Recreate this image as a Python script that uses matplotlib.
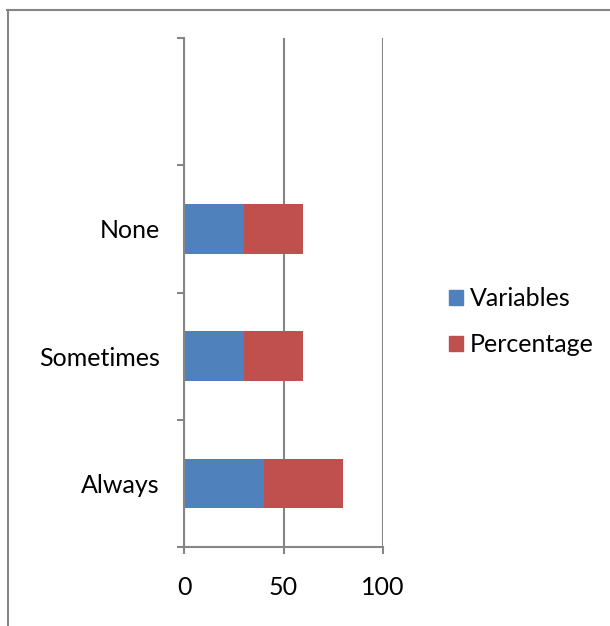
import matplotlib
matplotlib.use("Agg")
import matplotlib.pyplot as plt
from matplotlib.patches import Patch
from matplotlib.lines import Line2D

categories = ["Always", "Sometimes", "None"]
variables = [40, 30, 30]
percentage = [40, 30, 30]
series_names = ["Variables", "Percentage"]
x_ticks = [0, 50, 100]

BLUE = "#4F81BD"
RED = "#C0504D"
GRAY = "#868686"

plt.rcParams["font.family"] = ["Lato", "DejaVu Sans"]
FS = 18

fig = plt.figure(figsize=(6.10, 6.26), dpi=100)
ax = fig.add_axes([184 / 610, 1 - 547 / 626, (383 - 184) / 610, (547 - 38) / 626])

ypos = list(range(len(categories)))
bar_h = 0.39
ax.barh(ypos, variables, height=bar_h, color=BLUE, label=series_names[0], zorder=3)
ax.barh(ypos, percentage, left=variables, height=bar_h, color=RED, label=series_names[1], zorder=3)

# one empty slot above the last category
n_slots = len(categories) + 1
ax.set_ylim(-0.5, n_slots - 0.5)
ax.set_xlim(0, 100)

ax.set_yticks(ypos)
ax.set_yticklabels(categories, fontsize=FS)
ax.set_yticks([i - 0.5 for i in range(n_slots + 1)], minor=True)
ax.tick_params(axis="y", which="major", length=0, pad=17.5)
ax.tick_params(axis="y", which="minor", length=5, width=1.5, color=GRAY)

ax.set_xticks(x_ticks)
ax.set_xticklabels([str(v) for v in x_ticks], fontsize=FS)
ax.tick_params(axis="x", which="major", length=5, width=1.5, color=GRAY, pad=16)

ax.grid(axis="x", color=GRAY, linewidth=1.5, zorder=0)
for s in ["top", "right"]:
    ax.spines[s].set_visible(False)
for s in ["left", "bottom"]:
    ax.spines[s].set_color(GRAY)
    ax.spines[s].set_linewidth(1.5)
    ax.spines[s].set_zorder(4)

handles = [Patch(color=BLUE), Patch(color=RED)]
fig.legend(handles, series_names, loc="center left", bbox_to_anchor=(449 / 610, 1 - 322 / 626),
           frameon=False, fontsize=FS, handlelength=0.55, handleheight=0.55,
           handletextpad=0.3, labelspacing=0.92, borderaxespad=0, borderpad=0)

# outer frame: top and left edges
fig.add_artist(Line2D([7 / 610, 1], [1 - 10 / 626] * 2, color=GRAY, linewidth=1.5, transform=fig.transFigure))
fig.add_artist(Line2D([8 / 610] * 2, [1 - 10 / 626, 0], color=GRAY, linewidth=1.5, transform=fig.transFigure))

fig.savefig("out.png", dpi=100)
